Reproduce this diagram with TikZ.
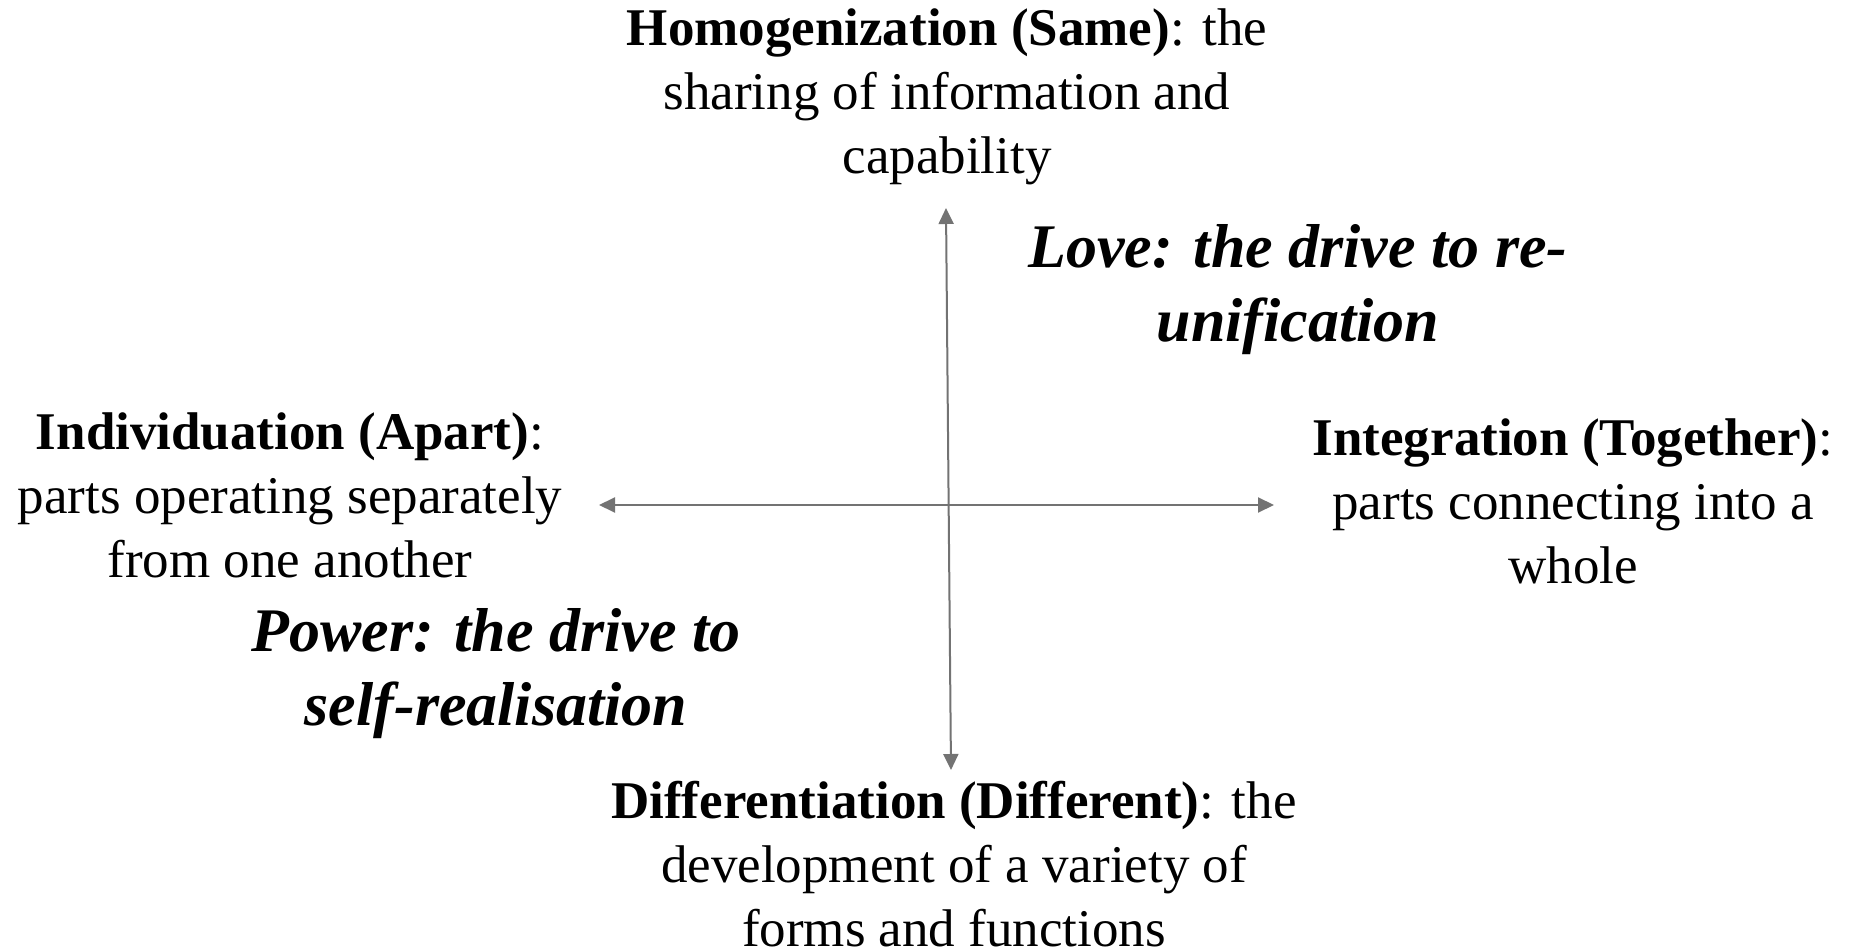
\documentclass[tikz,border=0pt]{standalone}
\usepackage{fontspec}
\setmainfont{Liberation Serif}
\usetikzlibrary{arrows.meta}
\begin{document}
\begin{tikzpicture}[x=1pt,y=-1pt,
  axis/.style={draw=gray!90!black,line width=2pt,{Triangle[length=16pt,width=15pt]}-{Triangle[length=16pt,width=15pt]}},
  pole/.style={inner sep=0pt,align=center,font=\fontsize{53}{64}\selectfont},
  drive/.style={inner sep=0pt,align=center,font=\fontsize{62}{74}\selectfont\bfseries\itshape}]
\useasboundingbox (0,0) rectangle (1856,949);
\coordinate (vt) at (946,208);
\coordinate (vb) at (951,770);
\coordinate (hl) at (599,505);
\coordinate (hr) at (1274,505);
\draw[axis] (vt) -- (vb);
\draw[axis] (hl) -- (hr);
\node[pole] (top) at (947,97) {\textbf{Homogenization (Same)}: the\\sharing of information and\\capability};
\node[pole] (bot) at (954,864) {\textbf{Differentiation (Different)}: the\\development of a variety of\\forms and functions};
\node[pole] (left) at (290,495) {\textbf{Individuation (Apart)}:\\parts operating separately\\from one another};
\node[pole] (right) at (1573,501) {\textbf{Integration (Together)}:\\parts connecting into a\\whole};
\node[drive] (love) at (1298,290) {Love: the drive to re-\\unification};
\node[drive] (power) at (496,674) {Power: the drive to\\self-realisation};
\end{tikzpicture}
\end{document}
